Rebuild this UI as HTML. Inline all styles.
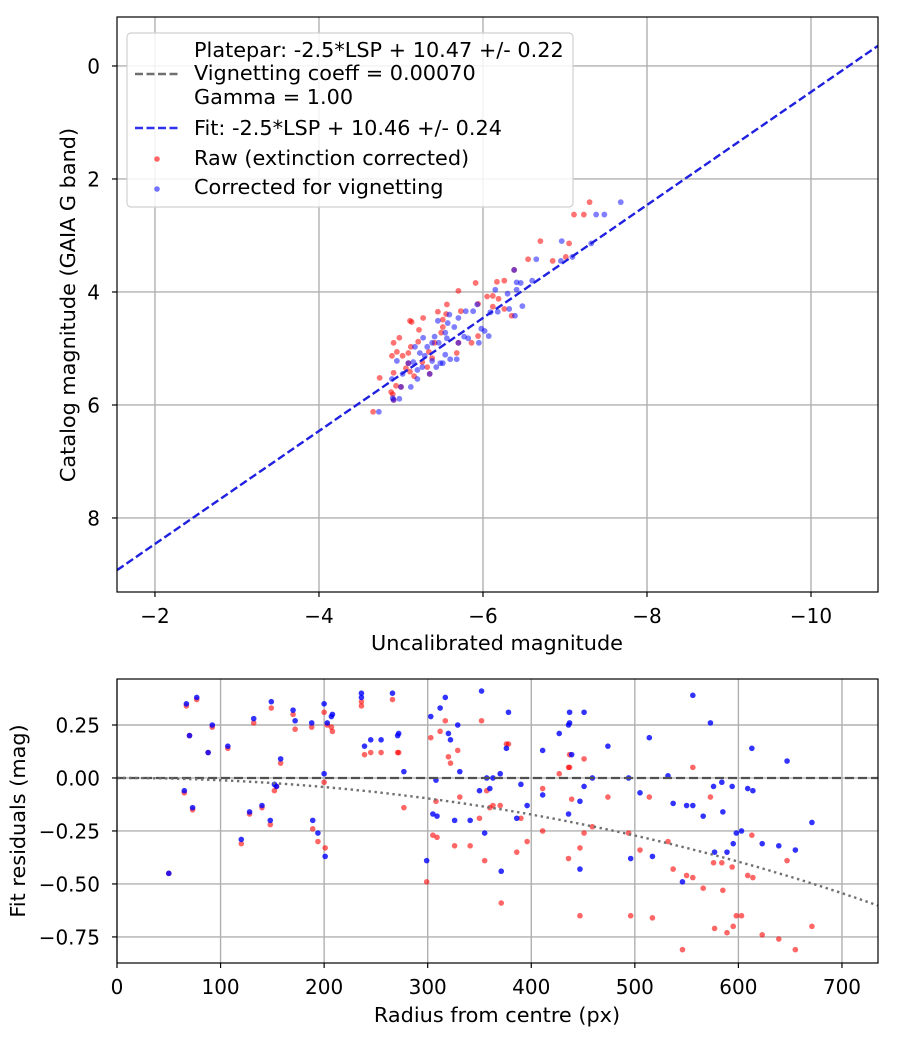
<!DOCTYPE html>
<html><head><meta charset="utf-8">
<style>
html,body{margin:0;padding:0;background:#fff;}
svg{display:block;font-family:"DejaVu Sans","Liberation Sans",sans-serif;}
</style></head>
<body>
<svg id="fig" width="900" height="1050" viewBox="0 0 900 1050" xmlns="http://www.w3.org/2000/svg">
<rect width="900" height="1050" fill="#fff"/>
<g id="topPlot"></g>
<g id="botPlot"></g>
</svg>
<script>
// ---- Top chart data ----
const topXTicks = [-2, -4, -6, -8, -10];
const topYTicks = [0, 2, 4, 6, 8];
const fitOffset = 10.46;
const redX = [-7.30,-7.11,-7.23,-6.70,-7.05,-6.55,-6.85,-7.01,-6.38,-6.26,-6.17,-5.91,-5.70,-6.05,-6.12,-6.19,-5.56,-5.94,-6.12,-6.26,-5.73,-5.45,-5.27,-5.55,-6.35,-5.11,-5.13,-5.51,-5.94,-5.22,-4.98,-4.91,-5.51,-5.49,-5.86,-5.70,-5.12,-5.21,-5.41,-4.95,-4.89,-5.02,-5.09,-5.34,-5.38,-5.68,-5.09,-5.26,-5.32,-5.06,-5.11,-5.35,-5.16,-4.91,-4.74,-4.94,-5.00,-4.88,-4.90,-4.91,-4.66];
const redY = [2.41,2.63,2.63,3.10,3.14,3.42,3.45,3.38,3.61,3.80,3.82,3.84,3.98,4.08,4.07,4.12,4.22,4.21,4.26,4.30,4.34,4.35,4.46,4.39,4.42,4.51,4.53,4.49,4.78,4.67,4.81,4.90,4.62,4.72,4.90,4.90,4.97,4.88,4.90,5.06,5.13,5.13,5.08,5.06,5.17,5.08,5.26,5.24,5.33,5.35,5.41,5.45,5.49,5.43,5.52,5.66,5.68,5.77,5.81,5.91,6.12];
const blueX = [-7.68,-7.38,-7.48,-6.96,-7.32,-6.65,-6.95,-7.09,-6.38,-6.41,-6.60,-6.46,-6.15,-6.30,-6.41,-6.48,-5.93,-6.32,-6.18,-5.79,-5.88,-5.70,-5.59,-6.39,-6.09,-5.45,-5.57,-5.98,-6.02,-6.07,-5.27,-5.41,-5.65,-5.54,-5.77,-5.95,-5.82,-5.70,-5.38,-5.17,-5.32,-5.46,-5.56,-5.23,-5.29,-5.54,-5.60,-5.68,-4.95,-5.09,-5.15,-5.38,-5.48,-5.51,-5.43,-5.26,-5.20,-5.35,-5.20,-5.02,-4.89,-5.00,-5.12,-4.90,-4.98,-4.91,-4.73];
const blueY = [2.41,2.63,2.63,3.10,3.14,3.42,3.45,3.38,3.61,3.83,3.80,3.84,3.96,4.03,3.96,4.25,4.22,4.30,4.35,4.34,4.34,4.46,4.40,4.42,4.36,4.51,4.55,4.65,4.69,4.78,4.81,4.79,4.62,4.72,4.79,4.90,4.82,4.90,4.90,4.97,4.97,4.90,4.82,5.08,5.13,5.11,5.19,5.19,5.22,5.26,5.24,5.22,5.26,5.26,5.33,5.33,5.38,5.45,5.54,5.45,5.54,5.68,5.68,5.88,5.89,5.91,6.12];

// ---- Bottom chart data ----
const botXTicks = [0,100,200,300,400,500,600,700];
const botYTicks = [0.25,0,-0.25,-0.5,-0.75];
const vignCoeff = 0.0007;
const radius = [50,65,67,70,73,77,88,92,107,120,128,132,140,148,149,152,154,158,170,172,188,189,194,200,200,201,203,207,208,236,236,239,245,255,266,271,272,277,299,303,305,308,309,312,317,320,322,326,329,331,341,350,352,355,357,360,363,370,371,376,378,386,390,396,411,411,427,436,436,437,437,439,447,447,451,451,459,474,494,496,505,514,517,532,537,546,550,556,556,566,573,576,577,584,585,589,594,595,598,603,609,613,614,623,639,647,655,671];
const resBlue = [-0.45,-0.06,0.35,0.20,-0.14,0.38,0.12,0.25,0.15,-0.29,-0.16,0.28,-0.13,-0.20,0.36,-0.03,-0.04,0.09,0.32,0.27,0.26,-0.20,-0.26,0.02,0.35,-0.37,0.26,0.29,0.30,0.40,0.38,0.15,0.18,0.18,0.40,0.20,0.21,0.03,-0.39,0.29,-0.17,-0.01,-0.18,0.33,0.38,0.21,0.18,-0.20,0.25,0.03,-0.20,-0.06,0.41,-0.26,0.00,-0.05,0.00,0.02,-0.44,0.14,0.31,-0.19,-0.03,-0.13,0.13,-0.08,0.21,-0.17,0.25,0.26,0.31,0.11,-0.11,-0.43,0.31,-0.04,0.00,0.15,0.00,-0.38,-0.07,0.19,-0.37,0.01,-0.12,-0.49,-0.13,-0.13,0.39,-0.18,0.26,-0.04,-0.35,-0.02,-0.16,-0.35,-0.04,-0.31,-0.26,-0.25,-0.05,0.14,-0.06,-0.31,-0.32,0.08,-0.34,-0.21];
const resRed = [-0.45,-0.07,0.34,0.20,-0.15,0.37,0.12,0.24,0.14,-0.31,-0.17,0.26,-0.14,-0.22,0.33,-0.06,-0.04,0.07,0.30,0.23,0.24,-0.24,-0.30,-0.02,0.31,-0.33,0.25,0.24,0.22,0.36,0.34,0.11,0.12,0.12,0.37,0.12,0.12,-0.14,-0.49,0.19,-0.27,-0.11,-0.28,0.22,0.27,0.10,0.07,-0.32,0.13,-0.09,-0.32,-0.19,0.27,-0.39,-0.06,-0.14,-0.13,-0.13,-0.59,0.16,0.16,-0.35,-0.19,-0.30,-0.05,-0.25,0.02,-0.38,0.05,0.05,0.11,-0.10,-0.33,-0.65,0.09,-0.26,-0.23,-0.09,-0.26,-0.65,-0.34,-0.09,-0.66,-0.30,-0.43,-0.81,-0.46,-0.47,0.05,-0.52,-0.09,-0.40,-0.71,-0.40,-0.53,-0.73,-0.42,-0.70,-0.65,-0.65,-0.46,-0.27,-0.47,-0.74,-0.76,-0.39,-0.81,-0.70];

const NS = 'http://www.w3.org/2000/svg';
const TICK_FS = 20;
const LABEL_FS = 20.8;
function mk(parent, tag, attrs, text) {
  const e = document.createElementNS(NS, tag);
  for (const k in attrs) e.setAttribute(k, attrs[k]);
  if (text !== undefined) e.textContent = text;
  parent.appendChild(e);
  return e;
}
function fmt(v, d) { return (v < 0 ? '\u2212' : '') + Math.abs(v).toFixed(d); }

// ---------- TOP ----------
const T = {l:117, r:878, t:17, b:592, x0:-1.537, x1:-10.817, y0:-0.867, y1:9.31};
const tx = v => T.l + (v - T.x0) / (T.x1 - T.x0) * (T.r - T.l);
const ty = v => T.t + (v - T.y0) / (T.y1 - T.y0) * (T.b - T.t);
const topG = document.getElementById('topPlot');
const tgrid = mk(topG, 'g', {});


topXTicks.forEach(v => {
  const X = tx(v);
  mk(tgrid, 'line', {x1:X, x2:X, y1:T.t, y2:T.b, stroke:'#b0b0b0', 'stroke-width':1.4});
  mk(topG, 'line', {x1:X, x2:X, y1:T.b, y2:T.b+5, stroke:'#000', 'stroke-width':1.2});
  const t = mk(topG, 'text', {x:X, y:T.b+31, 'font-size':TICK_FS, 'text-anchor':'middle'}, fmt(v, 0));
  
  
});
topYTicks.forEach(v => {
  const Y = ty(v);
  mk(tgrid, 'line', {x1:T.l, x2:T.r, y1:Y, y2:Y, stroke:'#b0b0b0', 'stroke-width':1.4});
  mk(topG, 'line', {x1:T.l-5, x2:T.l, y1:Y, y2:Y, stroke:'#000', 'stroke-width':1.2});
  const t = mk(topG, 'text', {x:T.l-17, y:Y+7.5, 'font-size':TICK_FS, 'text-anchor':'end'}, fmt(v, 0));
  
  
});
const tclip = mk(topG, 'clipPath', {id:'tclip'});
mk(tclip, 'rect', {x:T.l, y:T.t, width:T.r-T.l, height:T.b-T.t});
const tpts = mk(topG, 'g', {'clip-path':'url(#tclip)'});
redX.forEach((v, i) => {
  const c = mk(tpts, 'circle', {cx:tx(v), cy:ty(redY[i]), r:2.9, fill:'#ff0000', 'fill-opacity':0.55});
  
  
});
blueX.forEach((v, i) => {
  const c = mk(tpts, 'circle', {cx:tx(v), cy:ty(blueY[i]), r:2.9, fill:'#0000ff', 'fill-opacity':0.5});
  
  
});
const fit = mk(tpts, 'line', {x1:tx(T.x0), y1:ty(T.x0+fitOffset), x2:tx(T.x1), y2:ty(T.x1+fitOffset), stroke:'#2020e0', 'stroke-width':2.4, 'stroke-dasharray':'8,3.5'});


mk(topG, 'rect', {x:T.l, y:T.t, width:T.r-T.l, height:T.b-T.t, fill:'none', stroke:'#000', 'stroke-width':1.2});

// legend
const lg = mk(topG, 'g', {});


mk(lg, 'rect', {x:127, y:33, width:446, height:174, rx:4, fill:'#fff', 'fill-opacity':0.85, stroke:'#d0d0d0', 'stroke-width':1.2});
mk(lg, 'line', {x1:135, x2:178, y1:74, y2:74, stroke:'#707070', 'stroke-width':2.4, 'stroke-dasharray':'8,3.5'});
mk(lg, 'line', {x1:135, x2:178, y1:128, y2:128, stroke:'#3030f0', 'stroke-width':2.4, 'stroke-dasharray':'8,3.5'});
mk(lg, 'circle', {cx:157, cy:159, r:2.8, fill:'#ff0000', 'fill-opacity':0.6});
mk(lg, 'circle', {cx:157, cy:189, r:2.8, fill:'#0000ff', 'fill-opacity':0.55});
[['Platepar: -2.5*LSP + 10.47 +/- 0.22',57],['Vignetting coeff = 0.00070',80],['Gamma = 1.00',104],['Fit: -2.5*LSP + 10.46 +/- 0.24',135],['Raw (extinction corrected)',165],['Corrected for vignetting',194]].forEach(a => {
  const t = mk(lg, 'text', {x:194, y:a[1], 'font-size':LABEL_FS}, a[0]);
  
  
});
let t1 = mk(topG, 'text', {x:497, y:650, 'font-size':LABEL_FS, 'text-anchor':'middle'}, 'Uncalibrated magnitude');


t1 = mk(topG, 'text', {x:0, y:0, 'font-size':LABEL_FS, 'text-anchor':'middle', transform:'translate(75,305) rotate(-90)'}, 'Catalog magnitude (GAIA G band)');



// ---------- BOTTOM ----------
const B = {l:117, r:878, t:679, b:963, x0:0, x1:734.8, y0:0.467, y1:-0.873};
const bx = v => B.l + (v - B.x0) / (B.x1 - B.x0) * (B.r - B.l);
const by = v => B.t + (v - B.y0) / (B.y1 - B.y0) * (B.b - B.t);
const botG = document.getElementById('botPlot');
const bgrid = mk(botG, 'g', {});


botXTicks.forEach(v => {
  const X = bx(v);
  mk(bgrid, 'line', {x1:X, x2:X, y1:B.t, y2:B.b, stroke:'#b0b0b0', 'stroke-width':1.4});
  mk(botG, 'line', {x1:X, x2:X, y1:B.b, y2:B.b+5, stroke:'#000', 'stroke-width':1.2});
  const t = mk(botG, 'text', {x:X, y:B.b+31, 'font-size':TICK_FS, 'text-anchor':'middle'}, String(v));
  
  
});
botYTicks.forEach(v => {
  const Y = by(v);
  mk(bgrid, 'line', {x1:B.l, x2:B.r, y1:Y, y2:Y, stroke:'#b0b0b0', 'stroke-width':1.4});
  mk(botG, 'line', {x1:B.l-5, x2:B.l, y1:Y, y2:Y, stroke:'#000', 'stroke-width':1.2});
  const t = mk(botG, 'text', {x:B.l-17, y:Y+7.5, 'font-size':TICK_FS, 'text-anchor':'end'}, fmt(v, 2));
  
  
});
const bclip = mk(botG, 'clipPath', {id:'bclip'});
mk(bclip, 'rect', {x:B.l, y:B.t, width:B.r-B.l, height:B.b-B.t});
const bpts = mk(botG, 'g', {'clip-path':'url(#bclip)'});
radius.forEach((r, i) => {
  const c = mk(bpts, 'circle', {cx:bx(r), cy:by(resRed[i]), r:2.8, fill:'#ff0000', 'fill-opacity':0.6});
  
  
});
radius.forEach((r, i) => {
  const c = mk(bpts, 'circle', {cx:bx(r), cy:by(resBlue[i]), r:2.8, fill:'#0000ff', 'fill-opacity':0.8});
  
  
});
const zl = mk(bpts, 'line', {x1:B.l, x2:B.r, y1:by(0), y2:by(0), stroke:'#505050', 'stroke-width':2.2, 'stroke-dasharray':'9,4'});


let d = '';
for (let r = 0; r <= B.x1 + 5; r += 5) {
  const c = Math.cos(vignCoeff * r);
  const v = 2.5 * Math.log10(Math.pow(c, 4));
  d += (r === 0 ? 'M' : 'L') + bx(r).toFixed(1) + ',' + by(v).toFixed(1);
}
const vc = mk(bpts, 'path', {d:d, fill:'none', stroke:'#707070', 'stroke-width':2.4, 'stroke-dasharray':'2.4,3.6'});


mk(botG, 'rect', {x:B.l, y:B.t, width:B.r-B.l, height:B.b-B.t, fill:'none', stroke:'#000', 'stroke-width':1.2});
t1 = mk(botG, 'text', {x:497, y:1022, 'font-size':LABEL_FS, 'text-anchor':'middle'}, 'Radius from centre (px)');


t1 = mk(botG, 'text', {x:0, y:0, 'font-size':LABEL_FS, 'text-anchor':'middle', transform:'translate(25,821) rotate(-90)'}, 'Fit residuals (mag)');


</script>
</body></html>
